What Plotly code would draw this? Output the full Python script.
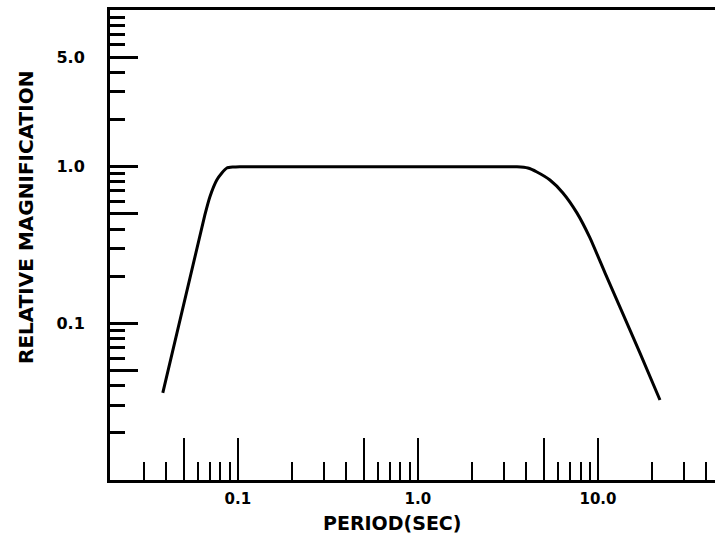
import plotly.graph_objects as go

# Response curve (period in sec, relative magnification)
period = [0.0383, 0.0656, 0.0699, 0.0764, 0.0815, 0.0869, 0.0938, 0.1026,
          0.2, 0.5, 1.0, 2.0, 3.04, 3.55, 4.08, 4.58, 5.41, 6.39, 7.64,
          9.03, 10.94, 13.25, 17.1, 22.1]
magnification = [0.036, 0.492, 0.641, 0.822, 0.912, 0.981, 0.995, 1.0,
                 1.0, 1.0, 1.0, 1.0, 1.0, 0.998, 0.98, 0.925, 0.822, 0.68, 0.507,
                 0.351, 0.210, 0.127, 0.0647, 0.0324]

# X axis ticks
x_major_vals = [0.05, 0.1, 0.5, 1.0, 5.0, 10.0]
x_major_text = ["", "0.1", "", "1.0", "", "10.0"]
x_minor_vals = [0.03, 0.04, 0.06, 0.07, 0.08, 0.09,
                0.2, 0.3, 0.4, 0.6, 0.7, 0.8, 0.9,
                2, 3, 4, 6, 7, 8, 9, 20, 30, 40]

# Y axis ticks
y_major_vals = [0.05, 0.1, 0.5, 1.0, 5.0]
y_major_text = ["", "0.1", "", "1.0", "5.0"]
y_minor_vals = [0.02, 0.03, 0.04, 0.06, 0.07, 0.08, 0.09,
                0.2, 0.3, 0.4, 0.6, 0.7, 0.8, 0.9,
                2, 3, 4, 6, 7, 8, 9]

x_title = "PERIOD(SEC)"
y_title = "RELATIVE MAGNIFICATION"

fig = go.Figure()
fig.add_trace(go.Scatter(
    x=period, y=magnification, mode="lines",
    line=dict(color="black", width=3, shape="spline", smoothing=0.5),
    showlegend=False, hoverinfo="skip"))

font_family = "DejaVu Sans"

fig.update_layout(
    width=715, height=539,
    margin=dict(l=110, r=0, t=10, b=59),
    paper_bgcolor="white", plot_bgcolor="white",
    showlegend=False,
)

fig.update_xaxes(
    type="log", range=[-1.71, 1.65],
    showgrid=False, zeroline=False,
    showline=True, linecolor="black", linewidth=3, mirror=True,
    tickmode="array", tickvals=x_major_vals, ticktext=x_major_text,
    ticks="inside", ticklen=42, tickwidth=2, tickcolor="black",
    ticklabelstandoff=3,
    tickfont=dict(family=font_family, size=15, color="black", weight="bold"),
    minor=dict(tickmode="array", tickvals=x_minor_vals, ticks="inside",
               ticklen=18, tickwidth=2, tickcolor="black", showgrid=False),
)

fig.update_yaxes(
    type="log", range=[-2, 1],
    showgrid=False, zeroline=False,
    showline=True, linecolor="black", linewidth=3,
    tickmode="array", tickvals=y_major_vals, ticktext=y_major_text,
    ticks="inside", ticklen=28, tickwidth=3, tickcolor="black",
    ticklabelstandoff=19,
    tickfont=dict(family=font_family, size=16, color="black", weight="bold"),
    minor=dict(tickmode="array", tickvals=y_minor_vals, ticks="inside",
               ticklen=15, tickwidth=3, tickcolor="black", showgrid=False),
)

title_font = dict(family=font_family, size=19, color="black", weight="bold")

fig.add_annotation(
    text=x_title, xref="paper", yref="paper",
    x=(392 - 110) / 605, y=-(523 - 480) / 470,
    xanchor="center", yanchor="middle", showarrow=False,
    font=title_font,
)

fig.add_annotation(
    text=y_title, xref="paper", yref="paper", textangle=-90,
    x=(26 - 110) / 605, y=(480 - 218) / 470,
    xanchor="center", yanchor="middle", showarrow=False,
    font=dict(family=font_family, size=20, color="black", weight="bold"),
)

fig.write_html("out.html")
